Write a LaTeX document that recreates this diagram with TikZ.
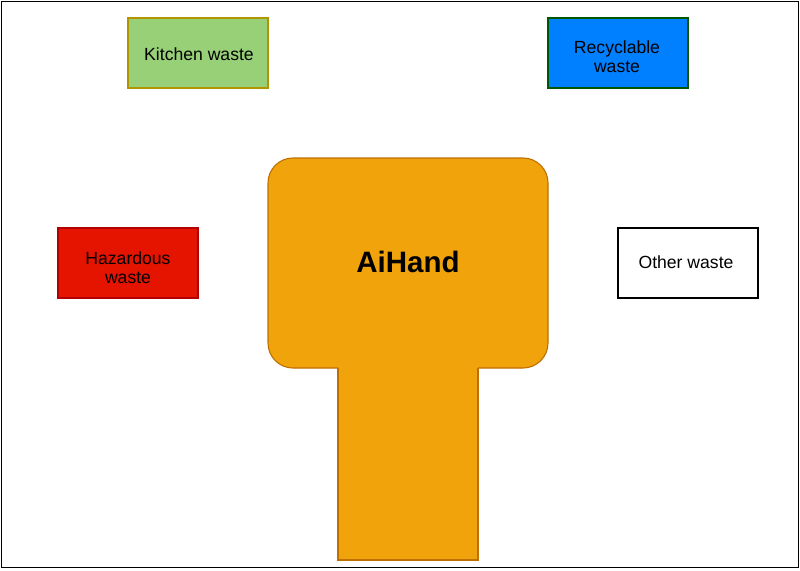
\documentclass[tikz,border=0pt]{standalone}
\usepackage{fontspec}
\setmainfont{Liberation Sans}
\definecolor{kfill}{HTML}{97D077}
\definecolor{kdraw}{HTML}{B09500}
\definecolor{rfill}{HTML}{007FFF}
\definecolor{rdraw}{HTML}{005700}
\definecolor{hfill}{HTML}{E51400}
\definecolor{hdraw}{HTML}{B20000}
\definecolor{afill}{HTML}{F0A30A}
\definecolor{adraw}{HTML}{BD7000}
\tikzset{
  wastebox/.style={draw, line width=1.1pt, minimum width=140pt, minimum height=70pt,
    align=center, font=\fontsize{17.6}{19}\selectfont, inner sep=0pt, text=black},
  wastetext/.style={align=center, font=\fontsize{17.6}{19}\selectfont, inner sep=0pt, text=black},
}
\begin{document}
\begin{tikzpicture}[x=1pt,y=-1pt]
\useasboundingbox (0,0) rectangle (800,570);
\draw[line width=1pt] (1,1) rectangle (798.5,567.5);
% AiHand shape
\fill[afill, rounded corners=25pt] (268,158) rectangle (548,368);
\fill[afill] (338,360) rectangle (478,560);
\draw[adraw, line width=1.1pt, rounded corners=25pt] (338,368) -- (268,368) -- (268,158) -- (548,158) -- (548,368) -- (478,368);
\draw[adraw, line width=1.1pt] (478,368) -- (478,560) -- (338,560) -- (338,368);
\node[font=\fontsize{29.5}{32}\selectfont\bfseries, text=black] (ai) at (408,262) {AiHand};
% boxes
\node[wastebox, fill=kfill, draw=kdraw] (kitchen) at (198,53) {};
\node[wastetext] (kitchentext) at (199,54) {Kitchen waste};
\node[wastebox, fill=rfill, draw=rdraw] (recy) at (618,53) {};
\node[wastetext] (recytext) at (617,57) {Recyclable\\waste};
\node[wastebox, fill=hfill, draw=hdraw] (haz) at (128,263) {};
\node[wastetext] (haztext) at (128,268) {Hazardous\\waste};
\node[wastebox, fill=white, draw=black] (other) at (688,263) {};
\node[wastetext] (othertext) at (686,262) {Other waste};
\end{tikzpicture}
\end{document}
